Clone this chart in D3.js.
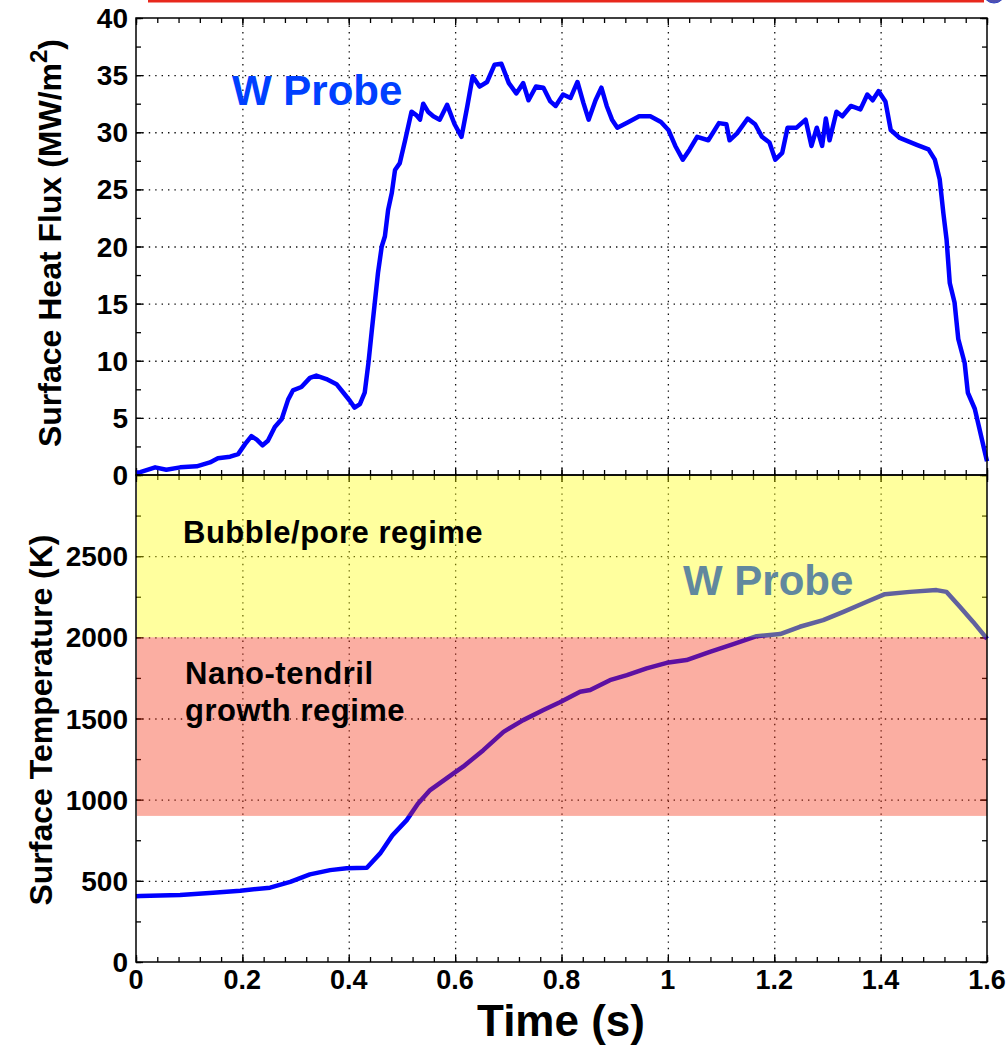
<!DOCTYPE html>
<html>
<head>
<meta charset="utf-8">
<script src="https://cdn.jsdelivr.net/npm/d3@7"></script>
<style>
  body { margin: 0; background: #fff; }
  text { font-family: "Liberation Sans", Arial, Helvetica, sans-serif; font-weight: bold; }
</style>
</head>
<body>
<svg width="1008" height="1047"></svg>
<script>
// ---- data ----
// surface heat flux (MW/m^2) vs time (s)
const fluxTime = [0, 0.008, 0.036, 0.057, 0.083, 0.114, 0.139, 0.154, 0.177, 0.192, 0.205, 0.217, 0.227, 0.238, 0.248,
  0.261, 0.274, 0.286, 0.295, 0.311, 0.327, 0.339, 0.358, 0.377, 0.39, 0.402, 0.411, 0.421, 0.43, 0.437, 0.443,
  0.449, 0.455, 0.462, 0.468, 0.474, 0.481, 0.487, 0.496, 0.506, 0.518, 0.527, 0.534, 0.54, 0.549, 0.559, 0.571,
  0.585, 0.599, 0.612, 0.623, 0.633, 0.646, 0.66, 0.674, 0.687, 0.701, 0.715, 0.728, 0.738, 0.752, 0.766, 0.779,
  0.789, 0.803, 0.817, 0.83, 0.841, 0.851, 0.864, 0.875, 0.885, 0.895, 0.905, 0.926, 0.946, 0.967, 0.987, 1.001,
  1.014, 1.028, 1.041, 1.055, 1.076, 1.096, 1.11, 1.116, 1.13, 1.15, 1.164, 1.177, 1.191, 1.202, 1.215, 1.225,
  1.242, 1.259, 1.27, 1.28, 1.29, 1.297, 1.304, 1.317, 1.328, 1.344, 1.362, 1.375, 1.385, 1.396, 1.409, 1.419,
  1.436, 1.468, 1.49, 1.502, 1.511, 1.518, 1.524, 1.53, 1.539, 1.546, 1.558, 1.564, 1.577, 1.586, 1.596, 1.6];
const fluxValue = [0.2, 0.25, 0.67, 0.46, 0.67, 0.76, 1.1, 1.46, 1.6, 1.83, 2.7, 3.4, 3.1, 2.6, 3.0,
  4.2, 4.9, 6.6, 7.4, 7.7, 8.5, 8.7, 8.4, 7.95, 7.2, 6.5, 5.9, 6.2, 7.2, 9.8, 12.5,
  15.1, 17.7, 20.0, 20.9, 23.2, 24.7, 26.7, 27.3, 29.3, 31.8, 31.5, 31.1, 32.5, 31.8, 31.4, 31.1,
  32.4, 30.7, 29.6, 32.3, 34.9, 34.0, 34.4, 35.9, 36.0, 34.3, 33.4, 34.3, 32.8, 34.0, 33.9, 32.7,
  32.3, 33.3, 33.0, 34.4, 32.6, 31.1, 32.8, 33.9, 32.3, 31.1, 30.4, 30.9, 31.4, 31.4, 30.9, 30.2,
  28.8, 27.6, 28.5, 29.6, 29.3, 30.8, 30.7, 29.3, 29.9, 31.2, 30.7, 29.6, 29.1, 27.6, 28.2, 30.4,
  30.4, 31.1, 28.8, 30.4, 28.8, 31.2, 29.3, 31.8, 31.4, 32.3, 32.0, 33.3, 32.8, 33.6, 32.7, 30.2,
  29.5, 28.9, 28.5, 27.6, 25.9, 22.9, 20.6, 16.8, 15.1, 11.9, 9.8, 7.2, 5.8, 4.0, 2.0, 1.2];

// surface temperature (K) vs time (s)
const tempTime = [0, 0.008, 0.083, 0.145, 0.196, 0.252, 0.29, 0.327, 0.365, 0.396, 0.434, 0.459, 0.482, 0.509,
  0.53, 0.553, 0.597, 0.615, 0.653, 0.691, 0.728, 0.766, 0.797, 0.835, 0.854, 0.891, 0.923, 0.96, 0.998, 1.035,
  1.079, 1.123, 1.167, 1.211, 1.248, 1.292, 1.33, 1.374, 1.408, 1.455, 1.505, 1.524, 1.549, 1.574, 1.596, 1.6];
const tempValue = [405, 406, 413, 427, 439, 458, 494, 540, 566, 577, 581, 669, 780, 874,
  975, 1059, 1162, 1203, 1305, 1418, 1490, 1552, 1600, 1665, 1675, 1736, 1767, 1809, 1843, 1860,
  1911, 1958, 2007, 2020, 2065, 2106, 2157, 2219, 2266, 2280, 2291, 2280, 2188, 2095, 2007, 1990];

// shaded regimes on the temperature panel (K)
const regimeNames = ["Bubble/pore regime", "Nano-tendril growth regime"];
const regimeLow = [2000, 900];
const regimeHigh = [3000, 2000];

const timeTicks = [0, 0.2, 0.4, 0.6, 0.8, 1, 1.2, 1.4, 1.6];
const timeTickLabels = ["0", "0.2", "0.4", "0.6", "0.8", "1", "1.2", "1.4", "1.6"];
const fluxTicks = [0, 5, 10, 15, 20, 25, 30, 35, 40];
const tempTicks = [0, 500, 1000, 1500, 2000, 2500, 3000];
const tempTickLabels = ["0", "500", "1000", "1500", "2000", "2500", ""];

// ---- layout ----
const left = 136, right = 987;
const top1 = 18, mid = 475, bottom = 962;
const lineBlue = "#0000ff";
const regimeColors = ["#ffff00", "#f52a0a"];

const svg = d3.select("svg");
svg.append("rect").attr("width", 1008).attr("height", 1047).attr("fill", "#fff");

const x = d3.scaleLinear().domain([0, 1.6]).range([left, right]);
const yFlux = d3.scaleLinear().domain([0, 40]).range([mid, top1]);
const yTemp = d3.scaleLinear().domain([0, 3000]).range([bottom, mid]);

// slide decoration at the very top
svg.append("line").attr("x1", 148).attr("x2", 984).attr("y1", 1).attr("y2", 1)
  .attr("stroke", "#e8281c").attr("stroke-width", 3);
svg.append("ellipse").attr("cx", 994).attr("cy", -8).attr("rx", 11).attr("ry", 11)
  .attr("fill", "#5050b0").attr("stroke", "#3040c0");

// minor tick positions (every 0.04 s, 2.5 MW/m2, 250 K)
const timeMinor = d3.range(0, 41).map(i => i * 0.04);
const fluxMinor = d3.range(0, 17).map(i => i * 2.5);
const tempMinor = d3.range(0, 13).map(i => i * 250);

function grid(yScale, yMajor, yTop, yBot) {
  const g = svg.append("g").attr("class", "grid");
  g.append("g").attr("transform", `translate(0,${yBot})`)
    .call(d3.axisBottom(x).tickValues(timeTicks.slice(1, -1)).tickSize(-(yBot - yTop)).tickFormat(""));
  g.append("g").attr("transform", `translate(${left},0)`)
    .call(d3.axisLeft(yScale).tickValues(yMajor.slice(1, -1)).tickSize(-(right - left)).tickFormat(""));
  g.selectAll(".domain").remove();
  g.selectAll("line").attr("stroke", "#111").attr("stroke-width", 1.3).attr("stroke-dasharray", "1.4,5");
}

function ticks(yScale, yMajor, yMinor, yTop, yBot) {
  const g = svg.append("g").attr("class", "ticks");
  const add = (axis, tr) => g.append("g").attr("transform", tr).call(axis.tickFormat(""));
  for (const [vals, len] of [[timeMinor, -5], [timeTicks, -7]]) {
    add(d3.axisBottom(x).tickValues(vals).tickSize(len), `translate(0,${yBot})`);
    add(d3.axisTop(x).tickValues(vals).tickSize(len), `translate(0,${yTop})`);
  }
  for (const [vals, len] of [[yMinor, -5], [yMajor, -7]]) {
    add(d3.axisLeft(yScale).tickValues(vals).tickSize(len), `translate(${left},0)`);
    add(d3.axisRight(yScale).tickValues(vals).tickSize(len), `translate(${right},0)`);
  }
  g.selectAll(".domain").remove();
  g.selectAll("line").attr("stroke", "#000").attr("stroke-width", 1.3);
}

grid(yFlux, fluxTicks, top1, mid);
grid(yTemp, tempTicks, mid, bottom);
ticks(yFlux, fluxTicks, fluxMinor, top1, mid);
ticks(yTemp, tempTicks, tempMinor, mid, bottom);

// curves
const fluxLine = d3.line().x(d => x(d[0])).y(d => yFlux(d[1]));
const tempLine = d3.line().x(d => x(d[0])).y(d => yTemp(d[1]));
svg.append("path").datum(d3.zip(fluxTime, fluxValue)).attr("d", fluxLine)
  .attr("fill", "none").attr("stroke", lineBlue).attr("stroke-width", 4.5).attr("stroke-linejoin", "round");
svg.append("path").datum(d3.zip(tempTime, tempValue)).attr("d", tempLine)
  .attr("fill", "none").attr("stroke", lineBlue).attr("stroke-width", 4.5).attr("stroke-linejoin", "round");

// probe labels (the lower one sits under the translucent boxes)
svg.append("text").attr("x", 232).attr("y", 105).attr("font-size", 42).attr("fill", "#0040ff").text("W Probe");
svg.append("text").attr("x", 683).attr("y", 595).attr("font-size", 42).attr("fill", "#0040ff").text("W Probe");

// translucent regime boxes
svg.append("g").selectAll("rect").data(regimeLow).join("rect")
  .attr("x", x(0) + 1)
  .attr("width", x(1.6) - x(0) - 1)
  .attr("y", (d, i) => yTemp(regimeHigh[i]))
  .attr("height", (d, i) => yTemp(d) - yTemp(regimeHigh[i]))
  .attr("fill", (d, i) => regimeColors[i])
  .attr("fill-opacity", 0.38);

svg.append("text").attr("x", 183).attr("y", 543).attr("font-size", 31).attr("letter-spacing", 0.5)
  .attr("fill", "#000").text(regimeNames[0]);
const nano = svg.append("text").attr("x", 185).attr("y", 684).attr("font-size", 31).attr("letter-spacing", 0.5)
  .attr("fill", "#000");
nano.append("tspan").attr("x", 185).text("Nano-tendril");
nano.append("tspan").attr("x", 185).attr("dy", 37).text("growth regime");

// frames
for (const [a, b] of [[top1, mid], [mid, bottom]]) {
  svg.append("rect").attr("x", left).attr("y", a).attr("width", right - left).attr("height", b - a)
    .attr("fill", "none").attr("stroke", "#000").attr("stroke-width", 1.5);
}

// tick labels
svg.append("g").selectAll("text").data(fluxTicks).join("text")
  .attr("x", 128).attr("y", d => yFlux(d)).attr("dy", "0.36em")
  .attr("text-anchor", "end").attr("font-size", 28).text(d => d);
svg.append("g").selectAll("text").data(tempTicks).join("text")
  .attr("x", 128).attr("y", d => yTemp(d)).attr("dy", "0.36em")
  .attr("text-anchor", "end").attr("font-size", 28).text((d, i) => tempTickLabels[i]);
svg.append("g").selectAll("text").data(timeTicks).join("text")
  .attr("x", d => x(d)).attr("y", 989)
  .attr("text-anchor", "middle").attr("font-size", 27).text((d, i) => timeTickLabels[i]);

// axis titles
const t1 = svg.append("text").attr("transform", "translate(61,243) rotate(-90)")
  .attr("text-anchor", "middle").attr("font-size", 32);
t1.append("tspan").text("Surface Heat Flux (MW/m");
t1.append("tspan").attr("font-size", 24).attr("dy", -14).text("2");
t1.append("tspan").attr("dy", 14).text(")");
svg.append("text").attr("transform", "translate(52,720) rotate(-90)")
  .attr("text-anchor", "middle").attr("font-size", 32).text("Surface Temperature (K)");
svg.append("text").attr("x", 561).attr("y", 1036).attr("text-anchor", "middle")
  .attr("font-size", 44).text("Time (s)");
</script>
</body>
</html>
